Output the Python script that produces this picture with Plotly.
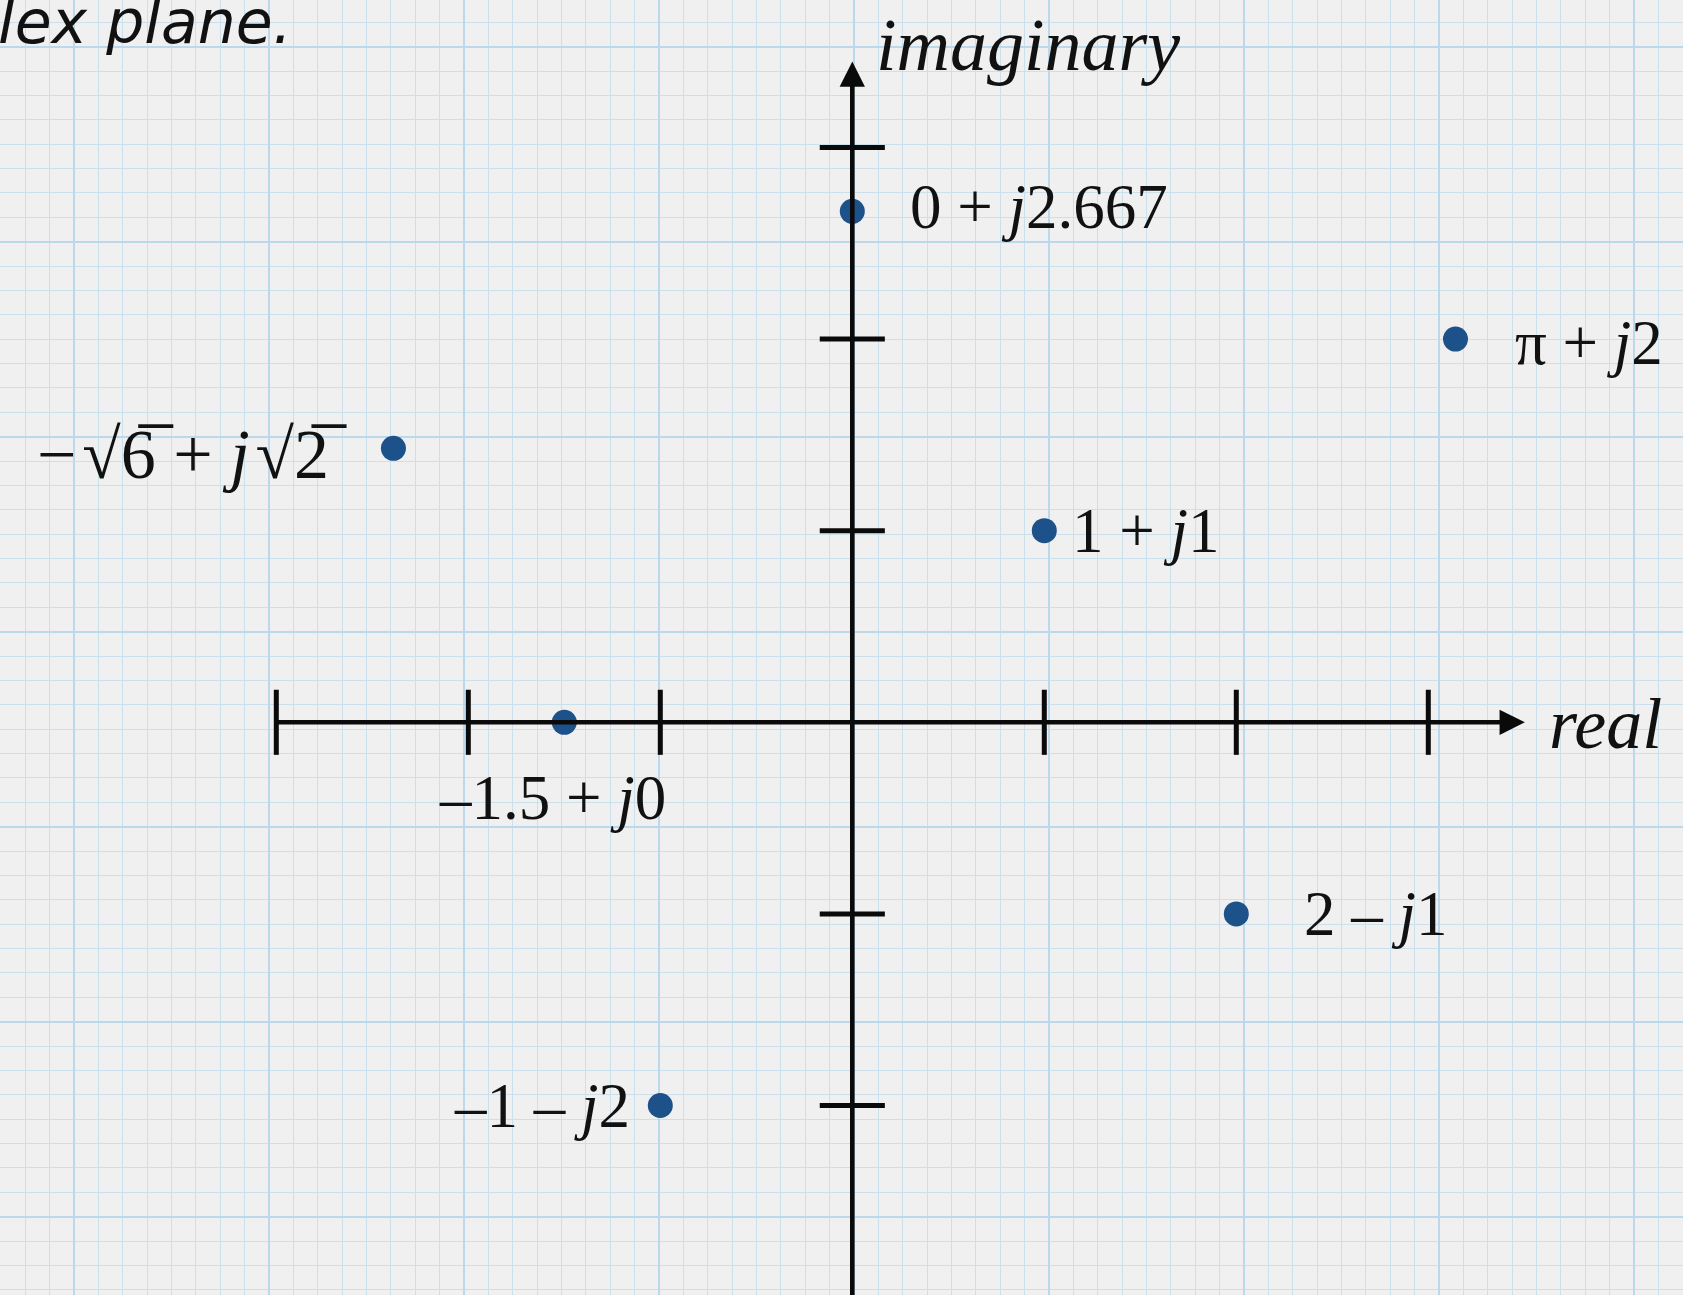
import math
import plotly.graph_objects as go

# ---------------- data ----------------
point_labels = [
    "0 + <i>j</i>2.667",
    "π + <i>j</i>2",
    "−\u200a√6̅ + <i>j</i>\u200a√2̅",
    "1 + <i>j</i>1",
    "–1.5 + <i>j</i>0",
    "2 – <i>j</i>1",
    "–1 – <i>j</i>2",
]
real_parts = [0, math.pi, -2.39, 1, -1.5, 2, -1]
imag_parts = [2.667, 2, 1.43, 1, 0, -1, -2]

x_tick_values = [-3, -2, -1, 1, 2, 3]
y_tick_values = [3, 2, 1, -1, -2, -3]

real_axis_extent = [-3, 3.503]
imag_axis_extent = [-3.1, 3.449]

axis_titles = ["real", "imaginary"]
caption = "lex plane."

# ---------------- style ----------------
W, H = 1683, 1295
BG = "#f0f0f0"
DOT = "#1d5189"
INK = "#0a0a0a"
SERIF = "Liberation Serif, Times New Roman, serif"

# label placement: (xanchor, xshift, yshift, font size)
label_place = [
    ("left", 56, 4, 63),
    ("left", 58, -4, 63),
    ("right", -44, -6, 70),
    ("left", 26, 0, 63),
    ("center", -12, -76, 63),
    ("left", 66, 0, 63),
    ("right", -28, 0, 63),
]

fig = go.Figure()

# invisible trace for the graph-paper (pixel) axes
fig.add_trace(go.Scatter(x=[], y=[], xaxis="x2", yaxis="y2", showlegend=False, hoverinfo="skip"))

# tick marks on the real axis
fig.add_trace(go.Scatter(
    x=x_tick_values, y=[0] * len(x_tick_values), mode="markers",
    marker=dict(symbol="line-ns", size=46.5, line=dict(width=5, color=INK)),
    showlegend=False, hoverinfo="skip", cliponaxis=False))
# tick marks on the imaginary axis
fig.add_trace(go.Scatter(
    x=[0] * len(y_tick_values), y=y_tick_values, mode="markers",
    marker=dict(symbol="line-ew", size=46.5, line=dict(width=5, color=INK)),
    showlegend=False, hoverinfo="skip"))

# points
fig.add_trace(go.Scatter(
    x=real_parts, y=imag_parts, mode="markers",
    marker=dict(size=25, color=DOT, line=dict(width=0)),
    showlegend=False, hoverinfo="skip"))

annotations = []
# axis arrows
annotations.append(dict(
    x=real_axis_extent[1], y=0, ax=real_axis_extent[0], ay=0,
    xref="x", yref="y", axref="x", ayref="y", text="", showarrow=True,
    arrowhead=2, arrowsize=1.1, arrowwidth=4.6, arrowcolor=INK))
annotations.append(dict(
    x=0, y=imag_axis_extent[1], ax=0, ay=imag_axis_extent[0],
    xref="x", yref="y", axref="x", ayref="y", text="", showarrow=True,
    arrowhead=2, arrowsize=1.1, arrowwidth=4.6, arrowcolor=INK))

# axis titles
annotations.append(dict(
    x=real_axis_extent[1], y=0, xref="x", yref="y", text="<i>" + axis_titles[0] + "</i>",
    showarrow=False, xanchor="left", yanchor="middle", xshift=22, yshift=-2,
    font=dict(family=SERIF, size=72, color="#111")))
annotations.append(dict(
    x=0, y=imag_axis_extent[1], xref="x", yref="y", text="<i>" + axis_titles[1] + "</i>",
    showarrow=False, xanchor="left", yanchor="middle", xshift=22, yshift=16,
    font=dict(family=SERIF, size=74, color="#111")))

# point labels
for lab, xr, yi, (xa, xs, ys, fs) in zip(point_labels, real_parts, imag_parts, label_place):
    annotations.append(dict(
        x=xr, y=yi, xref="x", yref="y", text=lab, showarrow=False,
        xanchor=xa, yanchor="middle", xshift=xs, yshift=ys,
        font=dict(family=SERIF, size=fs, color="#111")))

# caption fragment at top-left
annotations.append(dict(
    x=0, y=1, xref="paper", yref="paper", text="<i>" + caption + "</i>",
    showarrow=False, xanchor="left", yanchor="top", xshift=-4, yshift=15,
    font=dict(family="DejaVu Sans, sans-serif", size=60, color="#111")))

ox, oy = 852.3, 722.3
sx, sy = 192.0, 191.6

fig.update_layout(
    width=W, height=H,
    margin=dict(l=0, r=0, t=0, b=0, pad=0),
    paper_bgcolor=BG, plot_bgcolor=BG,
    showlegend=False,
    annotations=annotations,
    xaxis=dict(range=[(0 - ox) / sx, (W - ox) / sx], visible=False, fixedrange=True),
    yaxis=dict(range=[-(H - oy) / sy, oy / sy], visible=False, fixedrange=True),
    xaxis2=dict(range=[0, W], overlaying="x", anchor="y2", showgrid=True,
                tick0=74, dtick=195, gridcolor="#bcd9eb", gridwidth=2,
                minor=dict(tick0=74, dtick=24.375, showgrid=True, gridcolor="#cbe0ed", gridwidth=1.2),
                showticklabels=False, ticks="", zeroline=False, showline=False, fixedrange=True),
    yaxis2=dict(range=[H, 0], overlaying="y", anchor="x2", showgrid=True,
                tick0=46.7, dtick=195, gridcolor="#bcd9eb", gridwidth=2,
                minor=dict(tick0=46.7, dtick=24.375, showgrid=True, gridcolor="#cbe0ed", gridwidth=1.2),
                showticklabels=False, ticks="", zeroline=False, showline=False, fixedrange=True),
)

fig.write_html("out.html", config=dict(displayModeBar=False),
               post_script="document.body.style.margin='0';document.body.style.overflow='hidden';")
